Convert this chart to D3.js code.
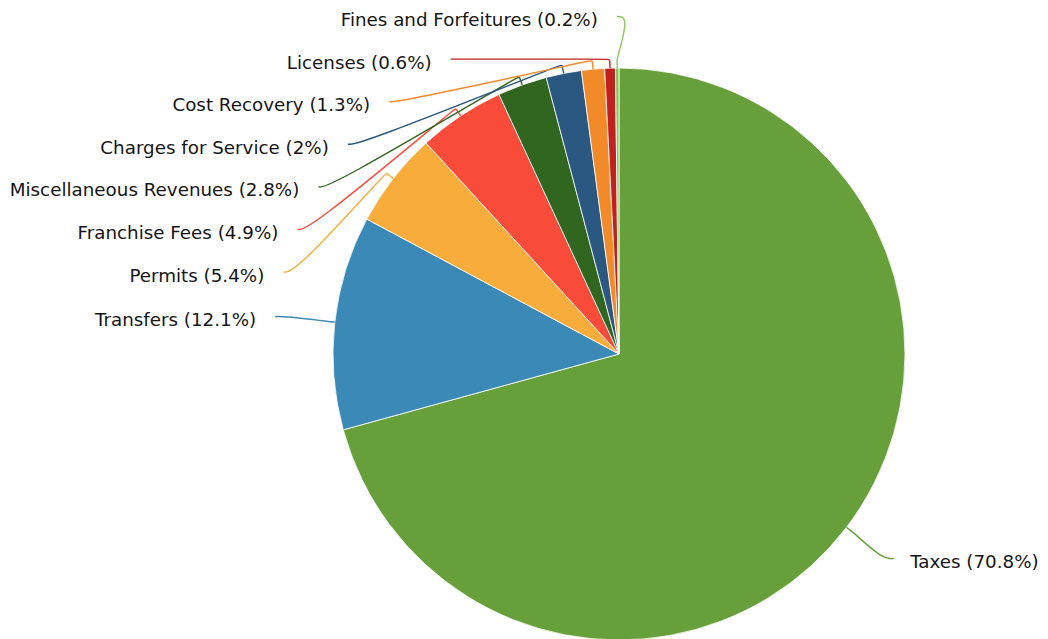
<!DOCTYPE html>
<html>
<head>
<meta charset="utf-8">
<script src="https://cdn.jsdelivr.net/npm/d3@7"></script>
<style>
  body { margin: 0; background: #fff; }
  .lbl { font-family: "DejaVu Sans", sans-serif; font-size: 18.3px; fill: #151515; }
</style>
</head>
<body>
<div id="chart"></div>
<script>
let categories = ['Taxes', 'Transfers', 'Permits', 'Franchise Fees', 'Miscellaneous Revenues',
  'Charges for Service', 'Cost Recovery', 'Licenses', 'Fines and Forfeitures'];
let values = [70.8, 12.1, 5.4, 4.9, 2.8, 2, 1.3, 0.6, 0.2];
let colors = ['#67a03a', '#3b89b6', '#f7ac3b', '#f94b3a', '#30661f', '#2a5880', '#f28a2a', '#c0231f', '#8cc65a'];

let width = 1048, height = 639;
let cx = 619, cy = 354, r = 286;
// label ellipse
let A = 346, B = 337.5, gap = 42.6;

let svg = d3.select('#chart')
  .append('svg')
  .attr('width', width)
  .attr('height', height);

let data = categories.map((c, i) => ({ name: c, value: values[i], color: colors[i] }));
let arcs = d3.pie().sort(null).value(d => d.value)(data);
let arc = d3.arc().innerRadius(0).outerRadius(r);

let g = svg.append('g').attr('transform', `translate(${cx},${cy})`);

g.selectAll('path.slice')
  .data(arcs)
  .enter()
  .append('path')
  .attr('class', 'slice')
  .attr('d', arc)
  .attr('fill', d => d.data.color)
  .attr('stroke', '#fff')
  .attr('stroke-width', 0.8);

// label positions
arcs.forEach(d => {
  d.mid = (d.startAngle + d.endAngle) / 2;
  d.side = Math.sin(d.mid) >= 0 ? 1 : -1;
  d.ly = cy - B * Math.cos(d.mid);
});
[1, -1].forEach(side => {
  let list = arcs.filter(d => d.side === side).sort((a, b) => a.ly - b.ly);
  let prev = -Infinity;
  list.forEach(d => {
    d.ly = Math.max(d.ly, cy - B, prev + gap);
    prev = d.ly;
  });
});
arcs.forEach(d => {
  let t = (d.ly - cy) / B;
  d.lx = cx + d.side * A * Math.sqrt(Math.max(0, 1 - t * t));
});

let line = d3.line().curve(d3.curveBasis);
function pt(a, rad) {
  return [cx + rad * Math.sin(a), cy - rad * Math.cos(a)];
}

svg.selectAll('path.leader')
  .data(arcs)
  .enter()
  .append('path')
  .attr('class', 'leader')
  .attr('fill', 'none')
  .attr('stroke', d => d.data.color)
  .attr('stroke-width', 1.4)
  .attr('d', d => {
    let p0 = pt(d.mid, r), p1 = pt(d.mid, r + 9);
    let q = [d.lx - d.side * 12, d.ly];
    return line([p0, p1, p1, q, [d.lx, d.ly]]);
  });

svg.selectAll('text.lbl')
  .data(arcs)
  .enter()
  .append('text')
  .attr('class', 'lbl')
  .attr('x', d => d.lx + d.side * (d.side > 0 ? 16 : 19))
  .attr('y', d => d.ly + 3)
  .attr('dy', '0.35em')
  .attr('text-anchor', d => d.side > 0 ? 'start' : 'end')
  .text(d => `${d.data.name} (${d.data.value}%)`);
</script>
</body>
</html>
